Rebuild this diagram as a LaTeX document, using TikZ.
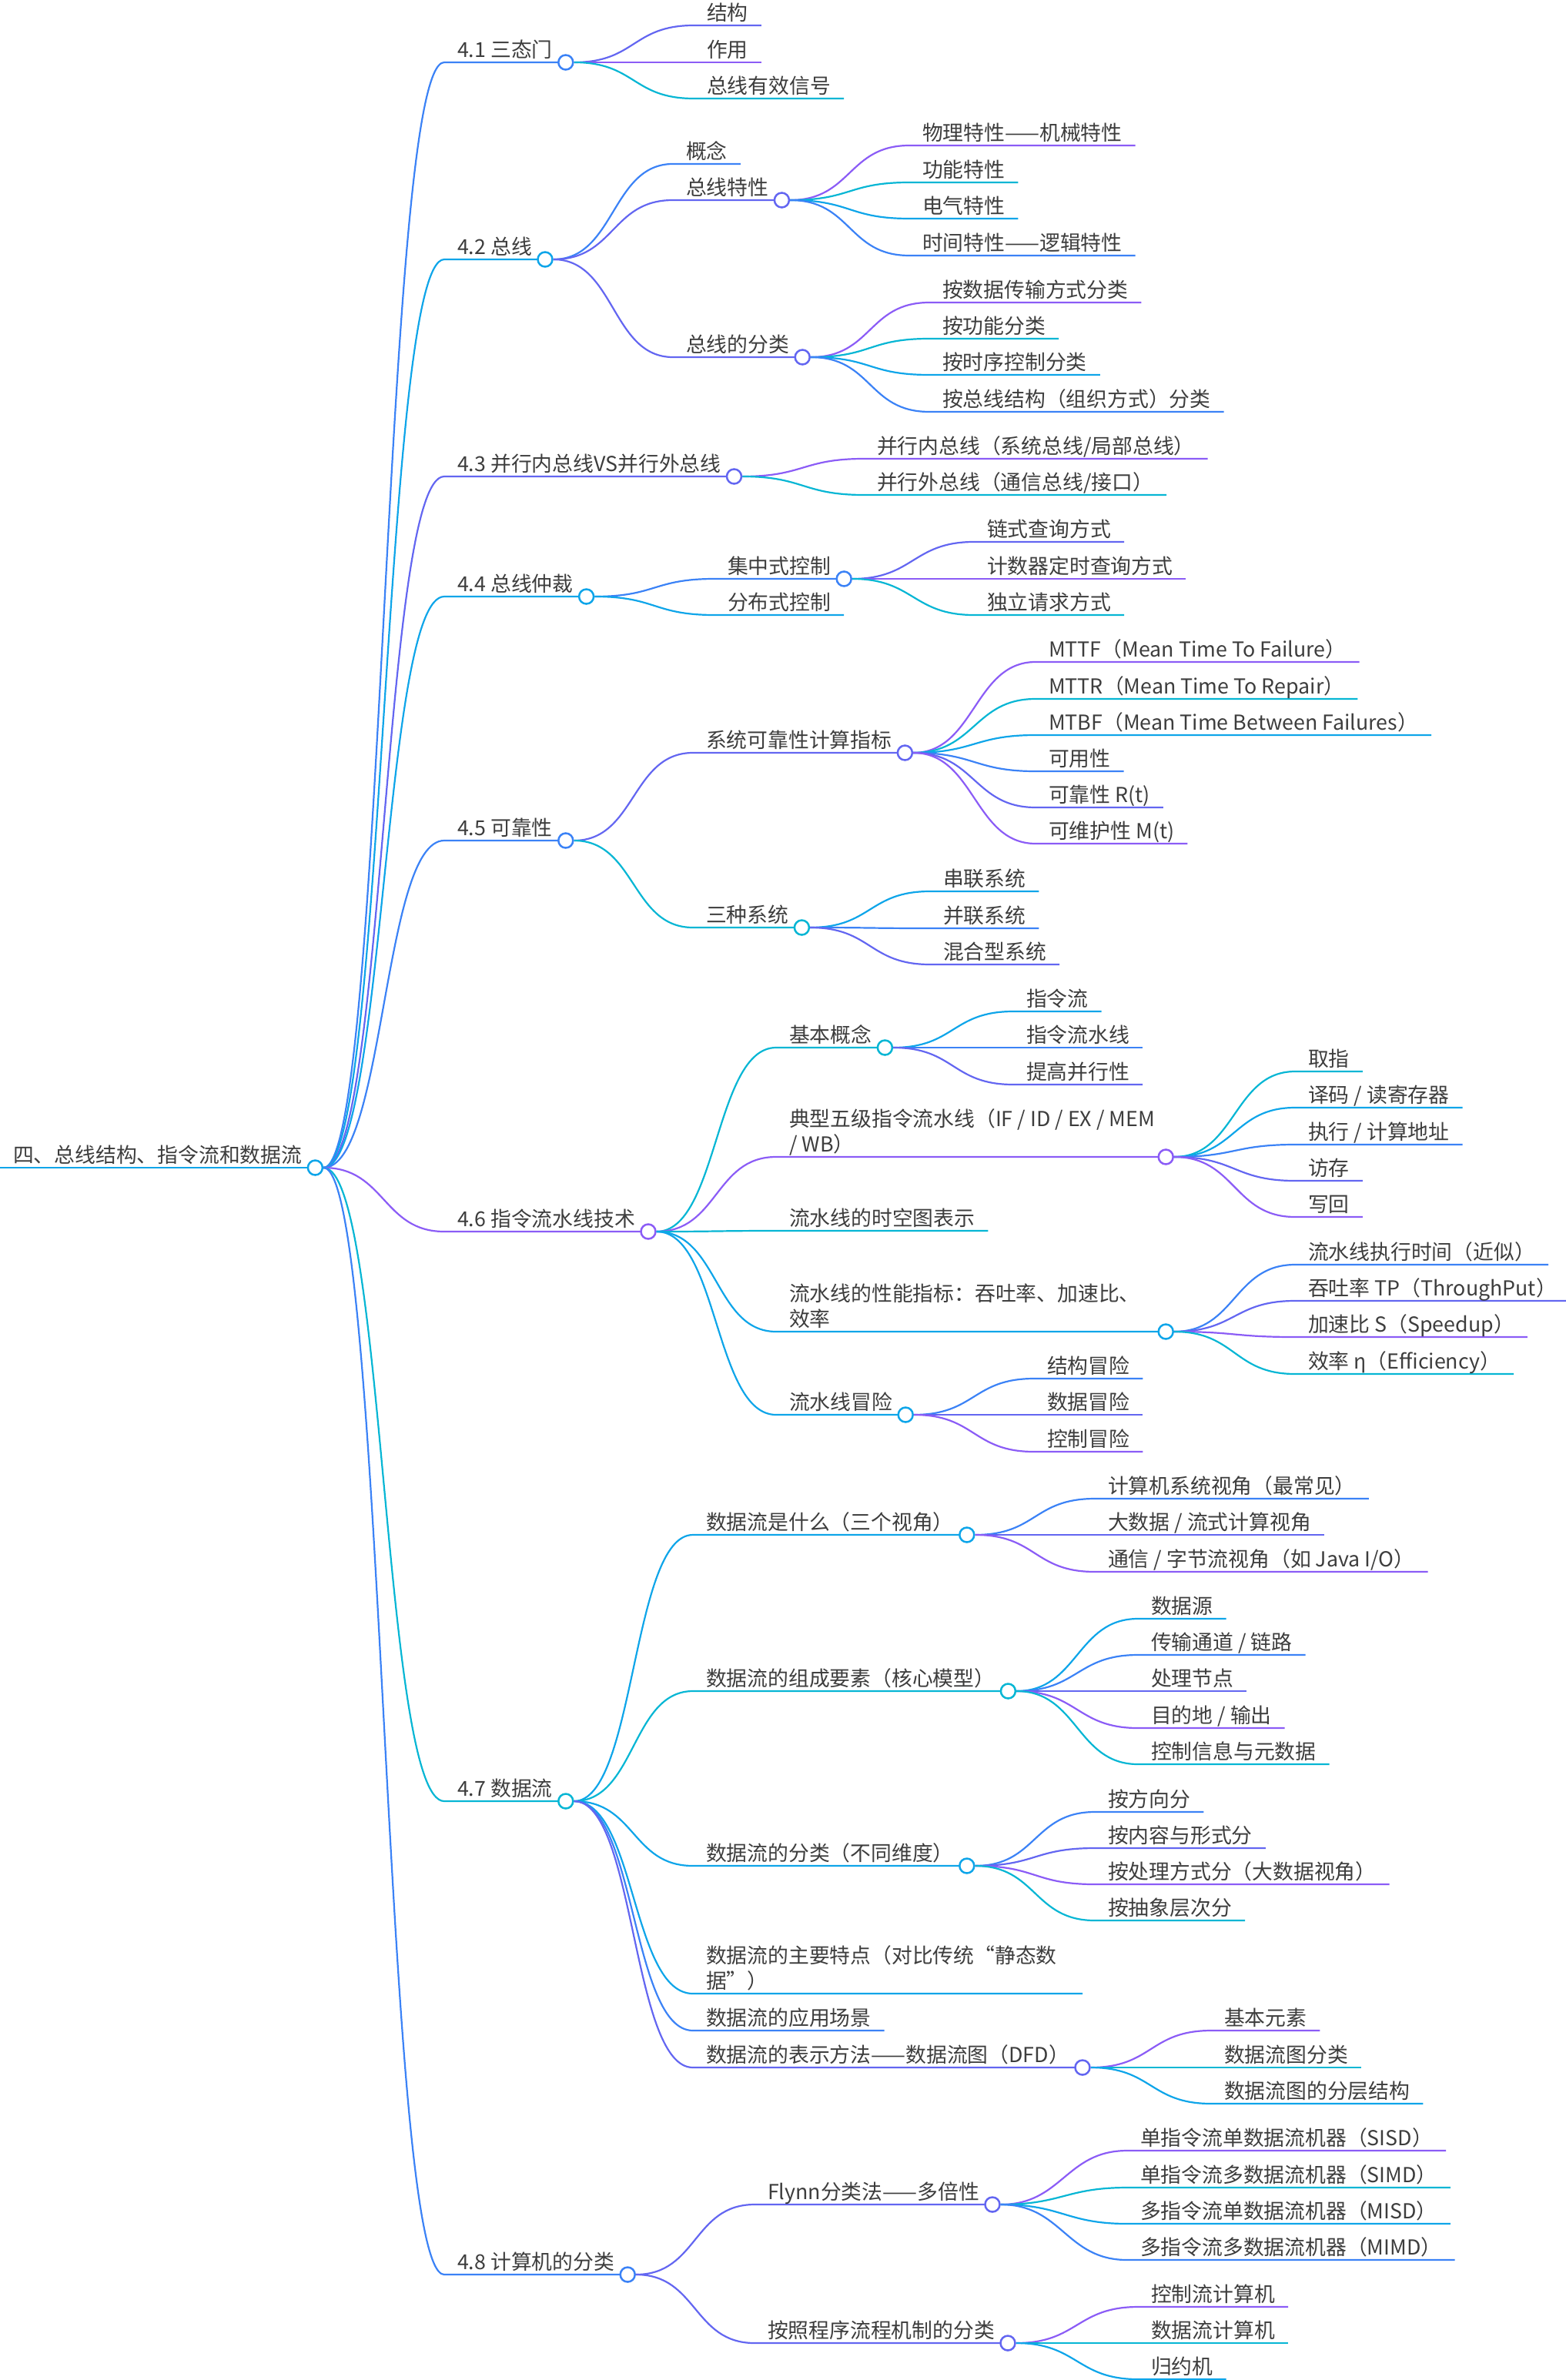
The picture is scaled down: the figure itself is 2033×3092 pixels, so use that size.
\documentclass[tikz,border=0pt]{standalone}
\usepackage{fontspec}
\setmainfont{Noto Sans CJK SC}
\definecolor{cB}{HTML}{3B82F6}
\definecolor{cI}{HTML}{6366F1}
\definecolor{cV}{HTML}{8B5CF6}
\definecolor{cC}{HTML}{06B6D4}
\definecolor{cS}{HTML}{0EA5E9}
\definecolor{ink}{HTML}{3D3D3D}

\begin{document}
\begin{tikzpicture}[x=0.5pt, y=-0.5pt, line width=1.1pt,
	txt/.style={anchor=south west, inner xsep=8pt, inner ysep=2.5pt, text depth=0pt, text=ink, font=\fontsize{13.4pt}{16.5pt}\selectfont},
	dot/.style={circle, draw, fill=white, line width=1.25pt, minimum size=9.5pt, inner sep=0pt},
	link/.style={to path={.. controls +(80,0) and +(-80,0) .. (\tikztotarget)}}]
	\useasboundingbox (0,0) rectangle (2033,3092);
	
	\node[txt] (R) at (0,1517) {四、总线结构、指令流和数据流};
	\draw[cS] (R.south west) -- (R.south east) node[dot] (Ro) {};
	
	% 4.1
	\draw[cB] (Ro.east) to[link] (577,81) node[txt] (S1) {4.1 三态门} -- (S1.south east) node[dot] (S1o) {};
	\draw[cI] (S1o.east) to[link] (901,33) node[txt] (S1a) {结构} -- (S1a.south east);
	\draw[cV] (S1o.east) to[link] (901,81) node[txt] (S1b) {作用} -- (S1b.south east);
	\draw[cC] (S1o.east) to[link] (901,128) node[txt] (S1c) {总线有效信号} -- (S1c.south east);
	
	% 4.2
	\draw[cS] (Ro.east) to[link] (577,337) node[txt] (S2) {4.2 总线} -- (S2.south east) node[dot] (S2o) {};
	\draw[cB] (S2o.east) to[link] (874,213) node[txt] (S2a) {概念} -- (S2a.south east);
	\draw[cI] (S2o.east) to[link] (874,260) node[txt] (S2b) {总线特性} -- (S2b.south east) node[dot] (S2bo) {};
	\draw[cV] (S2bo.east) to[link] (1181,189) node[txt] (S2b1) {物理特性——机械特性} -- (S2b1.south east);
	\draw[cC] (S2bo.east) to[link] (1181,237) node[txt] (S2b2) {功能特性} -- (S2b2.south east);
	\draw[cS] (S2bo.east) to[link] (1181,284) node[txt] (S2b3) {电气特性} -- (S2b3.south east);
	\draw[cB] (S2bo.east) to[link] (1181,332) node[txt] (S2b4) {时间特性——逻辑特性} -- (S2b4.south east);
	\draw[cI] (S2o.east) to[link] (874,464) node[txt] (S2c) {总线的分类} -- (S2c.south east) node[dot] (S2co) {};
	\draw[cV] (S2co.east) to[link] (1207,393) node[txt] (S2c1) {按数据传输方式分类} -- (S2c1.south east);
	\draw[cC] (S2co.east) to[link] (1207,440) node[txt] (S2c2) {按功能分类} -- (S2c2.south east);
	\draw[cS] (S2co.east) to[link] (1207,487) node[txt] (S2c3) {按时序控制分类} -- (S2c3.south east);
	\draw[cB] (S2co.east) to[link] (1207,535) node[txt] (S2c4) {按总线结构（组织方式）分类} -- (S2c4.south east);
	
	% 4.3
	\draw[cI] (Ro.east) to[link] (577,619) node[txt] (S3) {4.3 并行内总线VS并行外总线} -- (S3.south east) node[dot] (S3o) {};
	\draw[cV] (S3o.east) to[link] (1122,596) node[txt] (S3a) {并行内总线（系统总线/局部总线）} -- (S3a.south east);
	\draw[cC] (S3o.east) to[link] (1122,643) node[txt] (S3b) {并行外总线（通信总线/接口）} -- (S3b.south east);
	
	% 4.4
	\draw[cS] (Ro.east) to[link] (577,775) node[txt] (S4) {4.4 总线仲裁} -- (S4.south east) node[dot] (S4o) {};
	\draw[cB] (S4o.east) to[link] (928,752) node[txt] (S4a) {集中式控制} -- (S4a.south east) node[dot] (S4ao) {};
	\draw[cI] (S4ao.east) to[link] (1265,704) node[txt] (S4a1) {链式查询方式} -- (S4a1.south east);
	\draw[cV] (S4ao.east) to[link] (1265,752) node[txt] (S4a2) {计数器定时查询方式} -- (S4a2.south east);
	\draw[cC] (S4ao.east) to[link] (1265,799) node[txt] (S4a3) {独立请求方式} -- (S4a3.south east);
	\draw[cS] (S4o.east) to[link] (928,799) node[txt] (S4b) {分布式控制} -- (S4b.south east);
	
	% 4.5
	\draw[cB] (Ro.east) to[link] (577,1092) node[txt] (S5) {4.5 可靠性} -- (S5.south east) node[dot] (S5o) {};
	\draw[cI] (S5o.east) to[link] (900,978) node[txt] (S5a) {系统可靠性计算指标} -- (S5a.south east) node[dot] (S5ao) {};
	\draw[cV] (S5ao.east) to[link] (1345,860) node[txt] (S5a1) {MTTF（Mean Time To Failure）} -- (S5a1.south east);
	\draw[cC] (S5ao.east) to[link] (1345,908) node[txt] (S5a2) {MTTR（Mean Time To Repair）} -- (S5a2.south east);
	\draw[cS] (S5ao.east) to[link] (1345,955) node[txt] (S5a3) {MTBF（Mean Time Between Failures）} -- (S5a3.south east);
	\draw[cB] (S5ao.east) to[link] (1345,1002) node[txt] (S5a4) {可用性} -- (S5a4.south east);
	\draw[cI] (S5ao.east) to[link] (1345,1049) node[txt] (S5a5) {可靠性 R(t)} -- (S5a5.south east);
	\draw[cV] (S5ao.east) to[link] (1345,1096) node[txt] (S5a6) {可维护性 M(t)} -- (S5a6.south east);
	\draw[cC] (S5o.east) to[link] (900,1205) node[txt] (S5b) {三种系统} -- (S5b.south east) node[dot] (S5bo) {};
	\draw[cS] (S5bo.east) to[link] (1208,1158) node[txt] (S5b1) {串联系统} -- (S5b1.south east);
	\draw[cB] (S5bo.east) to[link] (1208,1206) node[txt] (S5b2) {并联系统} -- (S5b2.south east);
	\draw[cI] (S5bo.east) to[link] (1208,1253) node[txt] (S5b3) {混合型系统} -- (S5b3.south east);
	
	% 4.6
	\draw[cV] (Ro.east) to[link] (577,1600) node[txt] (S6) {4.6 指令流水线技术} -- (S6.south east) node[dot] (S6o) {};
	\draw[cC] (S6o.east) to[link] (1008,1361) node[txt] (S6a) {基本概念} -- (S6a.south east) node[dot] (S6ao) {};
	\draw[cS] (S6ao.east) to[link] (1316,1314) node[txt] (S6a1) {指令流} -- (S6a1.south east);
	\draw[cB] (S6ao.east) to[link] (1316,1361) node[txt] (S6a2) {指令流水线} -- (S6a2.south east);
	\draw[cI] (S6ao.east) to[link] (1316,1409) node[txt] (S6a3) {提高并行性} -- (S6a3.south east);
	\draw[cV] (S6o.east) to[link] (1008,1503) node[txt] (S6b) {\parbox[b]{236pt}{\mbox{典型五级指令流水线（IF / ID / EX / MEM}\\\mbox{/ WB）}}} -- (S6b.south east) node[dot] (S6bo) {};
	\draw[cC] (S6bo.east) to[link] (1682,1392) node[txt] (S6b1) {取指} -- (S6b1.south east);
	\draw[cS] (S6bo.east) to[link] (1682,1439) node[txt] (S6b2) {译码 / 读寄存器} -- (S6b2.south east);
	\draw[cB] (S6bo.east) to[link] (1682,1487) node[txt] (S6b3) {执行 / 计算地址} -- (S6b3.south east);
	\draw[cI] (S6bo.east) to[link] (1682,1534) node[txt] (S6b4) {访存} -- (S6b4.south east);
	\draw[cV] (S6bo.east) to[link] (1682,1581) node[txt] (S6b5) {写回} -- (S6b5.south east);
	\draw[cC] (S6o.east) to[link] (1008,1599) node[txt] (S6c) {流水线的时空图表示} -- (S6c.south east);
	\draw[cS] (S6o.east) to[link] (1008,1730) node[txt] (S6d) {\parbox[b]{236pt}{\mbox{流水线的性能指标：吞吐率、加速比、}\\\mbox{效率}}} -- (S6d.south east) node[dot] (S6do) {};
	\draw[cB] (S6do.east) to[link] (1682,1643) node[txt] (S6d1) {流水线执行时间（近似）} -- (S6d1.south east);
	\draw[cI] (S6do.east) to[link] (1682,1690) node[txt] (S6d2) {吞吐率 TP（ThroughPut）} -- (S6d2.south east);
	\draw[cV] (S6do.east) to[link] (1682,1737) node[txt] (S6d3) {加速比 S（Speedup）} -- (S6d3.south east);
	\draw[cC] (S6do.east) to[link] (1682,1785) node[txt] (S6d4) {效率 η（Efficiency）} -- (S6d4.south east);
	\draw[cS] (S6o.east) to[link] (1008,1838) node[txt] (S6e) {流水线冒险} -- (S6e.south east) node[dot] (S6eo) {};
	\draw[cB] (S6eo.east) to[link] (1343,1791) node[txt] (S6e1) {结构冒险} -- (S6e1.south east);
	\draw[cI] (S6eo.east) to[link] (1343,1838) node[txt] (S6e2) {数据冒险} -- (S6e2.south east);
	\draw[cV] (S6eo.east) to[link] (1343,1886) node[txt] (S6e3) {控制冒险} -- (S6e3.south east);
	
	% 4.7
	\draw[cC] (Ro.east) to[link] (577,2340) node[txt] (S7) {4.7 数据流} -- (S7.south east) node[dot] (S7o) {};
	\draw[cS] (S7o.east) to[link] (900,1994) node[txt] (S7a) {数据流是什么（三个视角）} -- (S7a.south east) node[dot] (S7ao) {};
	\draw[cB] (S7ao.east) to[link] (1422,1947) node[txt] (S7a1) {计算机系统视角（最常见）} -- (S7a1.south east);
	\draw[cI] (S7ao.east) to[link] (1422,1994) node[txt] (S7a2) {大数据 / 流式计算视角} -- (S7a2.south east);
	\draw[cV] (S7ao.east) to[link] (1422,2042) node[txt] (S7a3) {通信 / 字节流视角（如 Java I/O）} -- (S7a3.south east);
	\draw[cC] (S7o.east) to[link] (900,2197) node[txt] (S7b) {数据流的组成要素（核心模型）} -- (S7b.south east) node[dot] (S7bo) {};
	\draw[cS] (S7bo.east) to[link] (1478,2103) node[txt] (S7b1) {数据源} -- (S7b1.south east);
	\draw[cB] (S7bo.east) to[link] (1478,2150) node[txt] (S7b2) {传输通道 / 链路} -- (S7b2.south east);
	\draw[cI] (S7bo.east) to[link] (1478,2197) node[txt] (S7b3) {处理节点} -- (S7b3.south east);
	\draw[cV] (S7bo.east) to[link] (1478,2245) node[txt] (S7b4) {目的地 / 输出} -- (S7b4.south east);
	\draw[cC] (S7bo.east) to[link] (1478,2292) node[txt] (S7b5) {控制信息与元数据} -- (S7b5.south east);
	\draw[cS] (S7o.east) to[link] (900,2424) node[txt] (S7c) {数据流的分类（不同维度）} -- (S7c.south east) node[dot] (S7co) {};
	\draw[cB] (S7co.east) to[link] (1422,2354) node[txt] (S7c1) {按方向分} -- (S7c1.south east);
	\draw[cI] (S7co.east) to[link] (1422,2401) node[txt] (S7c2) {按内容与形式分} -- (S7c2.south east);
	\draw[cV] (S7co.east) to[link] (1422,2448) node[txt] (S7c3) {按处理方式分（大数据视角）} -- (S7c3.south east);
	\draw[cC] (S7co.east) to[link] (1422,2495) node[txt] (S7c4) {按抽象层次分} -- (S7c4.south east);
	\draw[cS] (S7o.east) to[link] (900,2590) node[txt] (S7d) {\parbox[b]{236pt}{\mbox{数据流的主要特点（对比传统“静态数}\\\mbox{据”）}}} -- (S7d.south east);
	\draw[cB] (S7o.east) to[link] (900,2638) node[txt] (S7e) {数据流的应用场景} -- (S7e.south east);
	\draw[cI] (S7o.east) to[link] (900,2686) node[txt] (S7f) {数据流的表示方法——数据流图（DFD）} -- (S7f.south east) node[dot] (S7fo) {};
	\draw[cV] (S7fo.east) to[link] (1573,2638) node[txt] (S7f1) {基本元素} -- (S7f1.south east);
	\draw[cC] (S7fo.east) to[link] (1573,2686) node[txt] (S7f2) {数据流图分类} -- (S7f2.south east);
	\draw[cS] (S7fo.east) to[link] (1573,2733) node[txt] (S7f3) {数据流图的分层结构} -- (S7f3.south east);
	
	% 4.8
	\draw[cB] (Ro.east) to[link] (577,2955) node[txt] (S8) {4.8 计算机的分类} -- (S8.south east) node[dot] (S8o) {};
	\draw[cI] (S8o.east) to[link] (980,2864) node[txt] (S8a) {Flynn分类法——多倍性} -- (S8a.south east) node[dot] (S8ao) {};
	\draw[cV] (S8ao.east) to[link] (1464,2794) node[txt] (S8a1) {单指令流单数据流机器（SISD）} -- (S8a1.south east);
	\draw[cC] (S8ao.east) to[link] (1464,2842) node[txt] (S8a2) {单指令流多数据流机器（SIMD）} -- (S8a2.south east);
	\draw[cS] (S8ao.east) to[link] (1464,2889) node[txt] (S8a3) {多指令流单数据流机器（MISD）} -- (S8a3.south east);
	\draw[cB] (S8ao.east) to[link] (1464,2936) node[txt] (S8a4) {多指令流多数据流机器（MIMD）} -- (S8a4.south east);
	\draw[cI] (S8o.east) to[link] (980,3044) node[txt] (S8b) {按照程序流程机制的分类} -- (S8b.south east) node[dot] (S8bo) {};
	\draw[cV] (S8bo.east) to[link] (1478,2997) node[txt] (S8b1) {控制流计算机} -- (S8b1.south east);
	\draw[cC] (S8bo.east) to[link] (1478,3044) node[txt] (S8b2) {数据流计算机} -- (S8b2.south east);
	\draw[cS] (S8bo.east) to[link] (1478,3091) node[txt] (S8b3) {归约机} -- (S8b3.south east);
\end{tikzpicture}
\end{document}
